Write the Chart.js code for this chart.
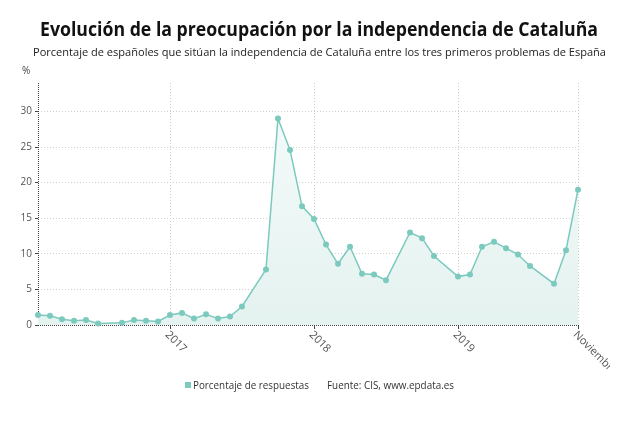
<!DOCTYPE html>
<html><head><meta charset="utf-8">
<script src="https://cdn.jsdelivr.net/npm/chart.js@4"></script>
<style>html,body{margin:0;padding:0;background:#fff}#wrap{width:639px;height:431px}</style>
</head><body><div id="wrap"><canvas id="c" width="639" height="431"></canvas></div>
<script>
const titleText = "Evolución de la preocupación por la independencia de Cataluña";
const subtitleText = "Porcentaje de españoles que sitúan la independencia de Cataluña entre los tres primeros problemas de España";
const seriesName = "Porcentaje de respuestas";
const sourceText = "Fuente: CIS, www.epdata.es";
const yUnit = "%";

const dates = ["2016-02","2016-03","2016-04","2016-05","2016-06","2016-07",
  "2016-09","2016-10","2016-11","2016-12",
  "2017-01","2017-02","2017-03","2017-04","2017-05","2017-06","2017-07",
  "2017-09","2017-10","2017-11","2017-12",
  "2018-01","2018-02","2018-03","2018-04","2018-05","2018-06","2018-07",
  "2018-09","2018-10","2018-11",
  "2019-01","2019-02","2019-03","2019-04","2019-05","2019-06","2019-07",
  "2019-09","2019-10","2019-11"];
const values = [1.4,1.3,0.8,0.6,0.7,0.2,
  0.3,0.7,0.6,0.5,
  1.4,1.7,0.9,1.5,0.9,1.2,2.6,
  7.8,29.0,24.6,16.7,
  14.9,11.3,8.6,11.0,7.2,7.1,6.3,
  13.0,12.2,9.7,
  6.8,7.1,11.0,11.7,10.8,9.9,8.3,
  5.8,10.5,19.0];
const xTickDates = ["2017-01","2018-01","2019-01","2019-11"];
const xTickLabels = ["2017","2018","2019","Noviembre"];
const yTicks = [0,5,10,15,20,25,30];
const yMax = 34;

function monthIndex(s){ const [y,m] = s.split("-").map(Number); return (y-2016)*12 + (m-1); }

const lineColor = "#7ccabe";
const FONT = "'Open Sans', 'DejaVu Sans', sans-serif";

function fitText(ctx, text, x, y, font, targetW, align){
  ctx.font = font;
  const w = ctx.measureText(text).width;
  ctx.save();
  ctx.translate(x, y);
  ctx.scale(targetW / w, 1);
  ctx.textAlign = align || "center";
  ctx.fillText(text, 0, 0);
  ctx.restore();
}

const decor = {
  id: "decor",
  beforeDatasetsDraw(chart){
    const ctx = chart.ctx, a = chart.chartArea;
    ctx.save();
    ctx.strokeStyle = "#444";
    ctx.lineWidth = 1;
    ctx.setLineDash([1,1]);
    ctx.beginPath();
    ctx.moveTo(a.left + 0.5, a.top);
    ctx.lineTo(a.left + 0.5, a.bottom);
    ctx.moveTo(a.left, a.bottom + 0.5);
    ctx.lineTo(a.right, a.bottom + 0.5);
    ctx.stroke();
    ctx.restore();
  },
  afterDraw(chart){
    const ctx = chart.ctx, a = chart.chartArea;
    const xs = chart.scales.x;
    ctx.save();
    ctx.fillStyle = "#111";
    ctx.textBaseline = "alphabetic";
    fitText(ctx, titleText, 319, 36, "bold 19px " + FONT, 558);
    ctx.fillStyle = "#222";
    fitText(ctx, subtitleText, 319.5, 56, "11px " + FONT, 573);
    // unit
    ctx.fillStyle = "#444";
    ctx.font = "10px " + FONT;
    ctx.textAlign = "left";
    ctx.fillText(yUnit, 22, 74);
    // x labels rotated, clipped at the right like the reference
    ctx.save();
    ctx.beginPath();
    ctx.rect(0, a.bottom, 610, 80);
    ctx.clip();
    ctx.fillStyle = "#555";
    ctx.font = "11px " + FONT;
    ctx.textBaseline = "middle";
    xTickDates.forEach((d, i) => {
      const px = xs.getPixelForValue(monthIndex(d));
      ctx.save();
      ctx.translate(px - 3, a.bottom + 8);
      ctx.rotate(Math.PI / 4);
      ctx.textAlign = "left";
      ctx.fillText(xTickLabels[i], 0, 0);
      ctx.restore();
    });
    ctx.restore();
    // legend
    ctx.fillStyle = lineColor;
    ctx.fillRect(185, 382, 6, 6);
    ctx.fillStyle = "#333";
    ctx.textBaseline = "alphabetic";
    fitText(ctx, seriesName, 193, 389, "10px " + FONT, 116, "left");
    fitText(ctx, sourceText, 327, 389, "10px " + FONT, 127, "left");
    ctx.restore();
  }
};

new Chart(document.getElementById("c"), {
  type: "line",
  data: {
    datasets: [{
      label: seriesName,
      data: dates.map((d, i) => ({ x: monthIndex(d), y: values[i] })),
      borderColor: lineColor,
      borderWidth: 1.5,
      pointRadius: 3,
      pointHoverRadius: 3,
      pointBackgroundColor: lineColor,
      pointBorderWidth: 0,
      tension: 0,
      fill: "origin",
      clip: false,
      backgroundColor: (c) => {
        const a = c.chart.chartArea;
        if (!a) return "rgba(230,243,241,1)";
        const g = c.chart.ctx.createLinearGradient(0, a.top, 0, a.bottom);
        g.addColorStop(0, "rgba(246,252,251,1)");
        g.addColorStop(1, "rgba(228,242,240,1)");
        return g;
      }
    }]
  },
  options: {
    responsive: false,
    animation: false,
    events: [],
    layout: { padding: { top: 83, right: 61, left: 0, bottom: 0 } },
    plugins: { legend: { display: false }, tooltip: { enabled: false }, title: { display: false } },
    scales: {
      x: {
        type: "linear",
        min: monthIndex(dates[0]),
        max: monthIndex(dates[dates.length - 1]),
        afterBuildTicks: (s) => { s.ticks = xTickDates.map(d => ({ value: monthIndex(d) })); },
        afterFit: (s) => { s.height = 106; },
        ticks: { display: false },
        grid: { color: "#cfcfcf", lineWidth: 1, tickColor: "#444", tickLength: 4, drawTicks: true },
        border: { display: false, dash: [1, 2] }
      },
      y: {
        min: 0,
        max: yMax,
        afterBuildTicks: (s) => { s.ticks = yTicks.map(v => ({ value: v })); },
        afterFit: (s) => { s.width = 38; },
        ticks: { font: { family: FONT, size: 10 }, color: "#555", padding: 3 },
        grid: {
          color: (c) => (c.tick && c.tick.value === 0) ? "rgba(0,0,0,0)" : "#cfcfcf",
          lineWidth: 1, tickColor: "#444", tickLength: 3
        },
        border: { display: false, dash: [1, 2] }
      }
    }
  },
  plugins: [decor]
});
</script>
</body></html>
